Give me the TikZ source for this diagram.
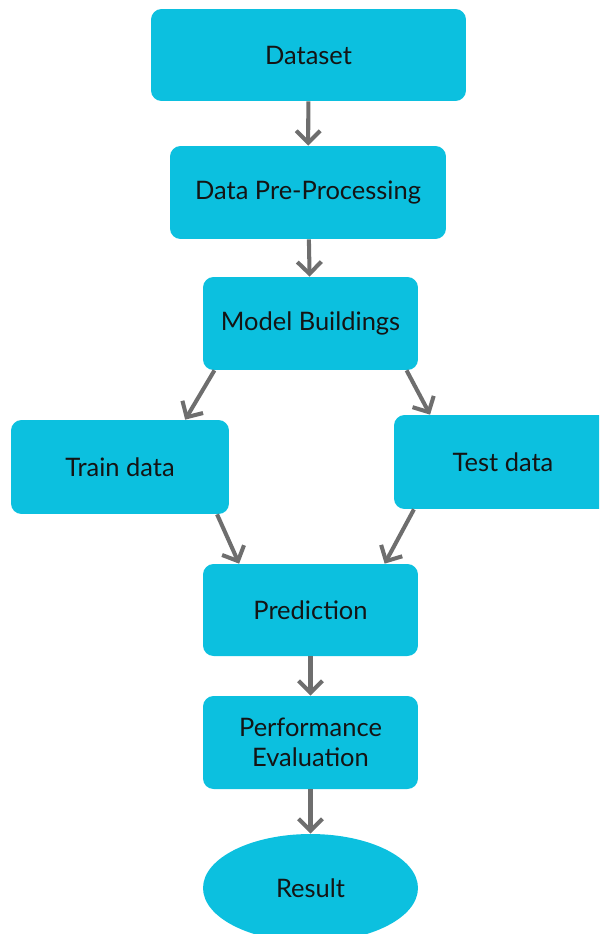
\documentclass[tikz,border=0pt]{standalone}
\usepackage{fontspec}
\setmainfont{Lato}
\usepackage{xcolor}
\definecolor{boxcyan}{HTML}{0CC0DF}
\definecolor{arrowgray}{HTML}{6E6E6E}
\usepackage{tikz}
\usetikzlibrary{arrows.meta,shapes.geometric}

\tikzset{
  stepbox/.style={fill=boxcyan, draw=none, rounded corners=6pt, align=center,
    text=black!92, font=\fontsize{14.5}{17}\selectfont, inner sep=0pt},
  stepoval/.style={ellipse, fill=boxcyan, draw=none, align=center,
    text=black!92, font=\fontsize{14.5}{17}\selectfont, inner sep=0pt},
  flow/.style={draw=arrowgray, line width=2.3pt,
    -{Straight Barb[length=2.4mm,width=4.8mm]}}
}

\begin{document}
\begin{tikzpicture}[x=0.02cm, y=-0.02cm]
            % Page area
            \clip (0,0) rectangle (599,934);

            % Pipeline steps
            \node[stepbox, minimum width=6.3cm, minimum height=1.84cm] (data) at (308.5,55) {Dataset};
            \node[stepbox, minimum width=5.52cm, minimum height=1.86cm] (prep) at (308,192.5) {Data Pre-Processing};
            \node[stepbox, minimum width=4.3cm, minimum height=1.86cm] (model) at (310.5,323.5) {Model Buildings};

            % Split
            \node[stepbox, minimum width=4.36cm, minimum height=1.88cm] (train) at (120,467) {Train data};
            \node[stepbox, minimum width=4.36cm, minimum height=1.88cm] (test) at (503,462) {Test data};

            % Evaluation
            \node[stepbox, minimum width=4.3cm, minimum height=1.84cm] (pred) at (310.5,610) {Prediction};
            \node[stepbox, minimum width=4.3cm, minimum height=1.86cm] (perf) at (310.5,742.5) {Performance\\Evaluation};
            \node[stepoval, minimum width=4.3cm, minimum height=2.16cm] (result) at (310.5,888) {Result};

            % Arrows
            \draw[flow] (data) -- (prep);
            \draw[flow] (prep) -- (model);
            \draw[flow] (model.206) -- (train.36);
            \draw[flow] (model.-26) -- (test.147);
            \draw[flow] (train.-26) -- (pred.147);
            \draw[flow] (test.-152) -- (pred.32);
            \draw[flow] (pred) -- (perf);
            \draw[flow] (perf) -- (result);
        \end{tikzpicture}
\end{document}
